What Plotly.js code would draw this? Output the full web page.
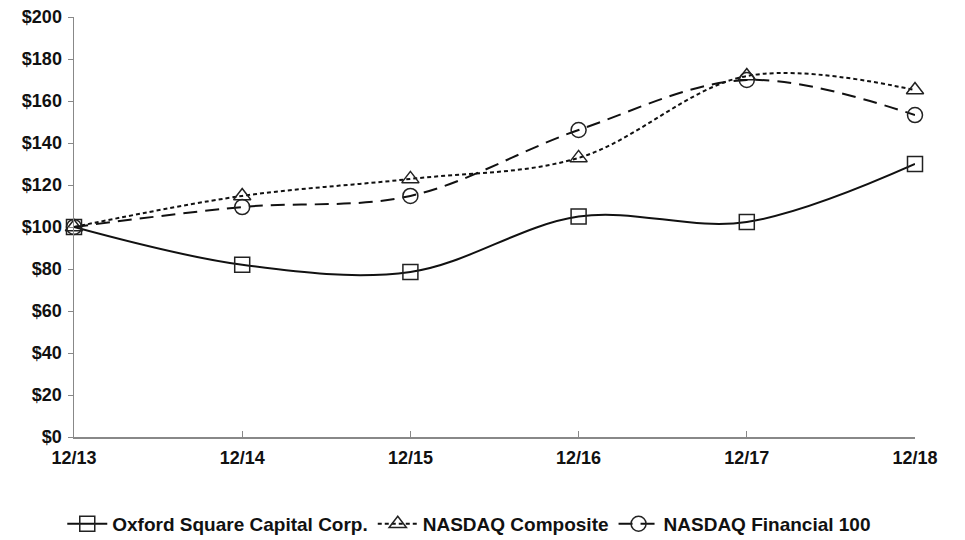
<!DOCTYPE html>
<html>
<head>
<meta charset="utf-8">
<script src="https://cdn.plot.ly/plotly-3.0.1.min.js"></script>
<style>html,body{margin:0;padding:0;background:#fff;}#chart{width:965px;height:540px;}</style>
</head>
<body>
<div id="chart"></div>
<script>
const categories = ["12/13", "12/14", "12/15", "12/16", "12/17", "12/18"];
const oxford = [100, 82, 78.6, 105, 102.4, 130];
const nasdaqComposite = [100, 114.8, 122.9, 132.9, 171.9, 165.2];
const nasdaqFinancial = [100, 109.5, 114.8, 146.2, 170, 153.3];
const yTicks = [0, 20, 40, 60, 80, 100, 120, 140, 160, 180, 200];
const yTickText = yTicks.map(v => "$" + v);

const fam = "Liberation Sans, Arial, sans-serif";

const traces = [
  {x: categories, y: oxford, name: "Oxford Square Capital Corp.", type: "scatter", mode: "lines+markers",
   cliponaxis: false,
   line: {color: "#111", width: 2, shape: "spline", dash: "solid"},
   marker: {symbol: "square-open", size: 15, color: "#222", line: {width: 1.5}}},
  {x: categories, y: nasdaqComposite, name: "NASDAQ Composite", type: "scatter", mode: "lines+markers",
   cliponaxis: false,
   line: {color: "#111", width: 2, shape: "spline", dash: "4px,3px"},
   marker: {symbol: "triangle-up-open", size: 15, color: "#222", line: {width: 1.5}}},
  {x: categories, y: nasdaqFinancial, name: "NASDAQ Financial 100", type: "scatter", mode: "lines+markers",
   cliponaxis: false,
   line: {color: "#111", width: 2, shape: "spline", dash: "14px,8px"},
   marker: {symbol: "circle-open", size: 15, color: "#222", line: {width: 1.5}}}
];

const layout = {
  width: 965, height: 540,
  margin: {l: 74, r: 50, t: 17, b: 103, autoexpand: false},
  paper_bgcolor: "#fff", plot_bgcolor: "#fff",
  font: {family: fam, size: 18, color: "#111"},
  showlegend: true,
  legend: {orientation: "h", x: 0.47, xanchor: "center",
           yref: "container", y: 0.065, yanchor: "top",
           font: {family: fam, size: 19, color: "#111", weight: "bold"},
           itemwidth: 40},
  xaxis: {type: "category", range: [0, 5], showgrid: false, zeroline: false,
          showline: true, linecolor: "#888", linewidth: 1.5,
          ticks: "inside", ticklen: 6, tickcolor: "#888",
          tickfont: {family: fam, size: 18, color: "#111", weight: "bold"},
          ticklabelstandoff: 4},
  yaxis: {range: [0, 200], tickvals: yTicks, ticktext: yTickText, showgrid: false, zeroline: false,
          showline: true, linecolor: "#888", linewidth: 1.5,
          ticks: "outside", ticklen: 5, tickcolor: "#888",
          tickfont: {family: fam, size: 18, color: "#111", weight: "bold"},
          ticklabelstandoff: 2}
};

Plotly.newPlot("chart", traces, layout, {displayModeBar: false, staticPlot: true});
</script>
</body>
</html>
